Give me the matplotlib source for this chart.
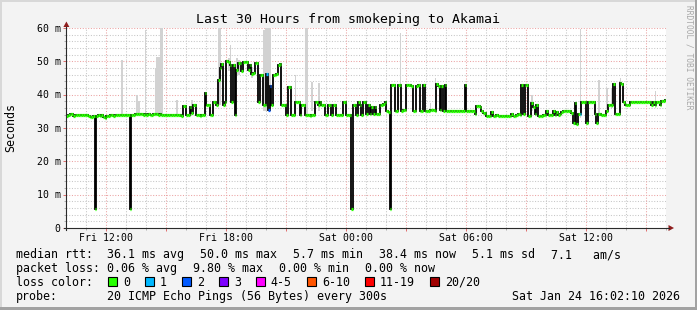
import numpy as np
import matplotlib
matplotlib.use("Agg")
import matplotlib.pyplot as plt
from matplotlib.patches import Rectangle, Polygon
from matplotlib.lines import Line2D
from matplotlib.transforms import Affine2D

# ---------------- data ----------------
title = "Last 30 Hours from smokeping to Akamai"
start_hour = 10 + 2 / 60          # Fri 10:02, hours since Fri 00:00
step_min = 5                      # one sample every 300 s

# median RTT (ms), one row per hour, 12 samples each
median_ms = [
    33.6, 33.8, 34.2, 34.1, 33.7, 33.9, 34.0, 33.9, 33.8, 33.9, 34.0, 33.9,
    33.8, 33.6, 33.3, 33.2, 33.5, 5.7, 33.6, 33.9, 33.7, 33.8, 33.2, 33.1,
    33.5, 33.7, 33.8, 33.9, 33.7, 33.8, 33.9, 34.0, 33.9, 34.0, 33.9, 34.0,
    34.0, 33.9, 5.7, 33.8, 34.0, 34.1, 34.2, 34.1, 34.2, 34.1, 34.0, 34.1,
    34.0, 34.1, 34.0, 33.9, 34.1, 34.2, 34.1, 34.0, 34.1, 34.0, 33.9, 34.0,
    33.9, 33.8, 33.9, 34.0, 33.9, 33.9, 33.8, 33.9, 33.8, 33.7, 36.7, 36.6,
    33.9, 33.8, 36.4, 34.5, 36.9, 36.8, 33.9, 33.8, 33.7, 33.9, 33.8, 40.4,
    36.9, 36.8, 33.9, 33.8, 37.9, 37.9, 36.9, 44.4, 47.9, 49.2, 36.9, 37.9,
    50.0, 49.9, 49.0, 37.9, 49.0, 34.0, 47.4, 49.4, 49.5, 47.0, 49.9, 49.8,
    49.9, 47.4, 49.0, 46.2, 46.4, 49.4, 49.6, 37.8, 46.0, 45.8, 36.9, 36.9,
    46.1, 35.4, 42.5, 36.9, 45.8, 45.9, 46.1, 49.0, 49.2, 36.9, 36.8, 36.9,
    33.9, 42.4, 42.3, 33.9, 33.8, 37.8, 37.8, 37.7, 33.9, 36.9, 36.8, 33.9,
    33.9, 33.8, 33.7, 33.9, 33.8, 37.8, 37.8, 36.9, 37.8, 36.9, 36.9, 33.9,
    33.9, 36.9, 36.9, 33.9, 36.9, 36.9, 33.9, 33.8, 33.9, 33.8, 37.8, 37.8,
    33.9, 33.8, 33.9, 5.7, 36.9, 36.9, 33.9, 37.8, 36.9, 33.9, 37.8, 37.8,
    34.1, 36.9, 34.1, 36.4, 34.1, 36.4, 34.1, 34.1, 36.9, 37.0, 37.2, 37.9,
    35.0, 34.8, 5.7, 42.9, 42.9, 35.1, 35.2, 42.9, 42.9, 35.1, 35.4, 35.4,
    42.9, 42.9, 42.9, 42.7, 35.1, 35.1, 42.7, 42.9, 35.1, 35.1, 42.9, 35.1,
    35.1, 35.1, 35.4, 35.4, 35.4, 35.2, 43.1, 42.7, 35.4, 42.7, 35.1, 42.9,
    35.1, 35.1, 35.0, 35.1, 35.1, 35.2, 35.1, 35.1, 35.0, 35.1, 35.1, 42.9,
    35.1, 35.1, 35.0, 35.1, 35.1, 34.1, 36.7, 36.7, 36.4, 35.1, 34.4, 34.4,
    33.7, 33.7, 33.6, 34.8, 33.7, 33.7, 33.8, 33.7, 33.6, 33.5, 33.5, 33.5,
    33.7, 33.6, 33.7, 34.1, 33.7, 33.7, 33.8, 34.1, 34.0, 42.9, 34.1, 42.9,
    42.9, 33.7, 33.7, 37.4, 36.4, 34.1, 36.9, 33.7, 33.7, 33.7, 33.9, 33.9,
    35.1, 33.9, 33.9, 33.9, 35.1, 33.9, 34.8, 33.9, 34.1, 34.8, 35.1, 35.1,
    35.1, 35.1, 35.1, 34.4, 31.4, 37.4, 31.2, 34.1, 34.1, 37.8, 37.8, 37.8,
    31.6, 37.8, 37.8, 37.8, 37.7, 34.1, 31.4, 34.1, 34.1, 33.9, 33.9, 33.9,
    35.1, 36.9, 36.9, 36.9, 43.1, 34.1, 34.1, 34.1, 43.4, 43.1, 37.9, 36.9,
    36.9, 36.9, 37.8, 37.9, 37.9, 37.9, 37.9, 37.9, 37.9, 37.9, 37.9, 37.9,
    37.9, 37.9, 37.9, 36.9, 37.8, 36.9, 37.8, 37.8, 36.9, 38.2, 38.2, 38.4,
]

# samples with packet loss (index, lost pings out of 20)
loss_idx = [120, 121, 122, 308]
loss_count = [1, 2, 2, 1]

# smoke (spread of individual pings) spikes
smoke_idx = [33, 42, 43, 47, 53, 54, 55, 56, 57, 66, 75, 91, 92, 97, 98,
             102, 103, 111, 118, 119, 120, 121, 122, 137, 143, 144, 147, 151,
             200, 218, 221, 279, 308, 319, 324, 327, 332, 353]
smoke_top = [50.4, 39.8, 38.0, 59.4, 47.9, 51.4, 51.4, 60.0, 60.0, 38.4, 38.4,
             59.9, 59.9, 51.0, 55.0, 51.0, 50.5, 48.4, 59.5, 60.0, 60.0, 60.0,
             59.8, 45.9, 60.0, 60.0, 43.9, 43.4, 58.5, 37.5, 44.9, 39.9, 59.8,
             44.4, 41.9, 41.9, 44.9, 41.1]
smoke_bottom = [33.5, 33.5, 33.5, 33.5, 33.5, 33.5, 33.5, 33.5, 33.5, 33.5, 34.0,
                37.0, 37.0, 47.0, 47.0, 46.0, 46.0, 45.0, 35.0, 35.0, 35.0, 35.0,
                35.0, 36.0, 33.5, 33.5, 35.0, 35.0, 40.0, 35.0, 35.0, 35.0, 33.0,
                33.5, 36.0, 36.0, 36.0, 36.0]

xtick_hours = [12, 18, 24, 30, 36]
xtick_labels = ["Fri 12:00", "Fri 18:00", "Sat 00:00", "Sat 06:00", "Sat 12:00"]
ytick_vals = [0, 10, 20, 30, 40, 50, 60]
ytick_labels = ["0", "10 m", "20 m", "30 m", "40 m", "50 m", "60 m"]

loss_labels = ["0", "1", "2", "3", "4-5", "6-10", "11-19", "20/20"]
loss_colors = ["#26ff00", "#00b8ff", "#0059ff", "#7e00ff", "#ff00ff",
               "#ff5500", "#ff0000", "#a00000"]
loss_upper = [0, 1, 2, 3, 5, 10, 19, 20]

rtt_items = ["median rtt:  36.1 ms avg", "50.0 ms max", "5.7 ms min",
             "38.4 ms now", "5.1 ms sd", "7.1   am/s"]
loss_items = ["packet loss: 0.06 % avg", "9.80 % max", "0.00 % min", "0.00 % now"]
probe_text = "20 ICMP Echo Pings (56 Bytes) every 300s"
stamp_text = "Sat Jan 24 16:02:10 2026"

# ---------------- figure ----------------
W, H = 697, 310
MONO = "DejaVu Sans Mono"
fig = plt.figure(figsize=(W / 100, H / 100), dpi=100)
fig.patch.set_facecolor("#f3f3f3")
PX = Affine2D().scale(1, -1).translate(0, H)   # pixel coords, origin top-left

X0, X1, YT, YB = 66.4, 666.4, 28.0, 228.0
ax = fig.add_axes([X0 / W, 1 - YB / H, (X1 - X0) / W, (YB - YT) / H])
ax.set_facecolor("white")
for s in ax.spines.values():
    s.set_visible(False)

n = len(median_ms)
edges = start_hour + np.arange(n + 1) * step_min / 60.0
ax.set_xlim(edges[0], edges[-1])
ax.set_ylim(0, 60)

# grid
dots = (0, (1.0, 1.6))
MAJ = "#eba3a3"
MIN = "#c6c6c6"
for v in range(2, 61, 2):
    major = v % 10 == 0
    ax.axhline(v, color=MAJ if major else MIN, lw=0.75, linestyle=dots, zorder=0)
for h in range(11, 41):
    major = h % 3 == 0
    ax.axvline(h, color=MAJ if major else MIN, lw=0.75, linestyle=dots, zorder=0)

# ticks (marks only)
ax.set_xticks([h for h in range(12, 41, 3)])
ax.set_xticks([h for h in range(11, 41) if h % 3], minor=True)
ax.set_yticks(ytick_vals)
ax.set_yticks([v for v in range(2, 60, 2) if v % 10], minor=True)
ax.tick_params(which="major", length=2.0, width=0.72, color="#e07070",
               direction="out", labelbottom=False, labelleft=False)
ax.tick_params(which="minor", length=1.6, width=0.72, color="#b0b0b0",
               direction="out")

# smoke
sidx = np.array(smoke_idx)
ax.bar(edges[sidx], np.array(smoke_top) - np.array(smoke_bottom),
       bottom=smoke_bottom, width=step_min / 60.0, align="edge",
       color="#d2d2d2", linewidth=0, zorder=1)

# median line (black steps) and loss-coloured segments
med = np.array(median_ms)
ax.stairs(med, edges, baseline=None, color="black", lw=1.3, zorder=2)
seg_colors = [loss_colors[0]] * n
for i, c in zip(loss_idx, loss_count):
    k = next(j for j, u in enumerate(loss_upper) if c <= u)
    seg_colors[i] = loss_colors[k]
ax.hlines(med, edges[:-1], edges[1:], colors=seg_colors, lw=2.3, zorder=3)

# tick labels
for h, lab in zip(xtick_hours, xtick_labels):
    ax.text(h, (YB - 241) / (YB - YT), lab, transform=ax.get_xaxis_transform(),
            ha="center", va="baseline", family=MONO, fontsize=7.1)
for v, lab in zip(ytick_vals, ytick_labels):
    ax.text((60.8 - X0) / (X1 - X0), v - 3.6 * 60 / (YB - YT), lab,
            transform=ax.get_yaxis_transform(), ha="right", va="baseline",
            family=MONO, fontsize=7.1)

# axes lines with arrows
axis_col = "#2a2a2a"
arrow_col = "#8f1d1d"
fig.add_artist(Line2D([X0, X0], [YB + 2, 26.5], transform=PX, color=axis_col, lw=0.8))
fig.add_artist(Line2D([X0 - 2, 669.0], [YB, YB], transform=PX, color=axis_col, lw=0.8))
fig.add_artist(Polygon([[X0 - 3, 27], [X0 + 3, 27], [X0, 21.5]], closed=True,
                       transform=PX, color=arrow_col, lw=0))
fig.add_artist(Polygon([[668.5, YB - 3], [668.5, YB + 3], [674, YB]], closed=True,
                       transform=PX, color=arrow_col, lw=0))

# frame
fig.add_artist(Rectangle((0, 0), W, 2, transform=PX, color="#d8d8d8", lw=0))
fig.add_artist(Rectangle((0, 0), 2, H, transform=PX, color="#d8d8d8", lw=0))
fig.add_artist(Rectangle((0, H - 3), W, 3, transform=PX, color="#a2a2a2", lw=0))
fig.add_artist(Rectangle((W - 2, 0), 2, H, transform=PX, color="#a2a2a2", lw=0))

def ptext(x, y, s, **kw):
    kw.setdefault("family", MONO)
    kw.setdefault("fontsize", 8.37)
    kw.setdefault("va", "baseline")
    fig.text(x / W, 1 - y / H, s, **kw)

ptext(347.5, 23.0, title, ha="center", fontsize=9.5)
ptext(10.5, 127.5, "Seconds", rotation=90, ha="center", va="center")
ptext(688.5, 57.5, "RRDTOOL / TOBI OETIKER", rotation=270, ha="center",
      va="center", fontsize=5.7, color="#a8a8a8")

CW = 7.0
GAP = 16.0
x = 15.6
for item in rtt_items:
    ptext(x, 258.3, item)
    x += CW * len(item) + GAP
x = 15.6
for item in loss_items:
    ptext(x, 272.3, item)
    x += CW * len(item) + GAP

ptext(15.6, 285.8, "loss color:")
x = 108.3
for lab, col in zip(loss_labels, loss_colors):
    fig.add_artist(Rectangle((x, 277.4), 8.4, 8.6, transform=PX, facecolor=col,
                             edgecolor="black", lw=0.8))
    ptext(x + 14.6, 285.8, lab)
    x += 15 + CW * len(lab) + 15

ptext(15.6, 300.0, "probe:")
ptext(106.8, 300.0, probe_text)
ptext(680.5, 300.0, stamp_text, ha="right")

fig.savefig("out.png", dpi=100, facecolor=fig.get_facecolor())
